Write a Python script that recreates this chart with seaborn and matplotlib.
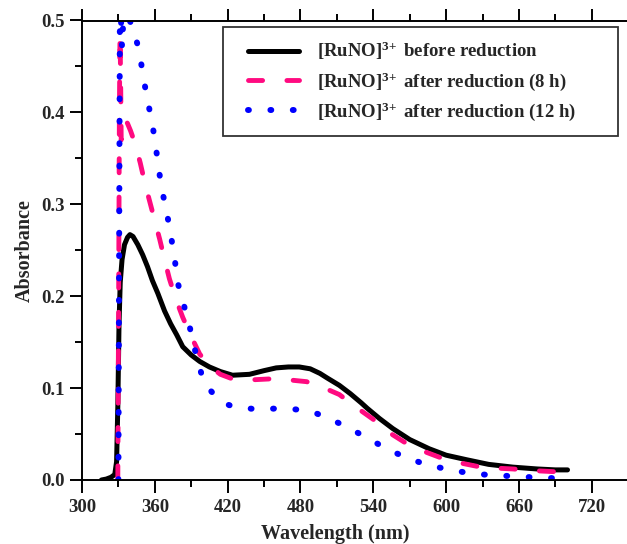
import matplotlib
matplotlib.use("Agg")
import matplotlib.pyplot as plt
from matplotlib.ticker import MultipleLocator, FormatStrFormatter
from matplotlib.legend_handler import HandlerLine2D
from matplotlib.lines import Line2D
import seaborn as sns
import pandas as pd

# UV-Vis spectra of [RuNO]3+ before and after reduction
wl_before = [316, 320, 324, 327, 328.5, 329.5, 330.5, 331.5, 333, 335, 337.5, 339.5, 342, 346,
             350, 354, 358, 362.5, 368, 373, 378, 383, 390, 397, 405, 414, 424, 438, 450, 460,
             470, 479, 488, 496, 502, 512, 521, 530, 535, 545, 556, 570, 586, 600, 617, 635,
             655, 675, 690, 700]
abs_before = [0.000, 0.001, 0.003, 0.006, 0.020, 0.080, 0.170, 0.215, 0.240, 0.256, 0.264, 0.267,
              0.265, 0.256, 0.245, 0.232, 0.217, 0.203, 0.184, 0.170, 0.158, 0.145, 0.136, 0.129,
              0.123, 0.118, 0.114, 0.115, 0.119, 0.122, 0.123, 0.123, 0.121, 0.116, 0.111, 0.103,
              0.094, 0.084, 0.078, 0.067, 0.056, 0.044, 0.034, 0.027, 0.022, 0.017, 0.014, 0.012,
              0.011, 0.011]

wl_8h = [329.5, 330.2, 330.8, 331.3, 331.8, 332.3, 333.5, 335.5, 337.5, 340, 344, 348, 352, 356,
         360, 364, 368, 372, 377, 383, 390, 397, 405, 414, 424, 440, 455, 470, 485, 498, 512,
         525, 541, 555, 567, 582, 596, 610, 625, 640, 655, 675, 690, 700]
abs_8h = [0.000, 0.200, 0.400, 0.485, 0.440, 0.370, 0.383, 0.392, 0.388, 0.380, 0.365, 0.345,
          0.322, 0.302, 0.282, 0.262, 0.240, 0.219, 0.198, 0.177, 0.156, 0.137, 0.124, 0.115,
          0.110, 0.109, 0.110, 0.109, 0.107, 0.101, 0.093, 0.080, 0.065, 0.050, 0.040, 0.031,
          0.024, 0.019, 0.015, 0.013, 0.012, 0.010, 0.009, 0.008]

wl_12h = [330, 330.6, 331.2, 332, 333, 334, 337, 340, 344, 347, 350, 353.5, 357.5, 360.5, 363,
          366, 370, 373.5, 376.5, 379, 384, 389, 393.5, 398.7, 404, 411, 418, 426.7, 445, 465,
          483.5, 492, 501.6, 518, 534.6, 551, 567.5, 585.6, 603.7, 621, 640, 658, 670, 688, 695]
abs_12h = [0.000, 0.250, 0.500, 0.505, 0.470, 0.500, 0.506, 0.498, 0.482, 0.468, 0.443, 0.416,
           0.391, 0.366, 0.340, 0.315, 0.290, 0.264, 0.239, 0.214, 0.190, 0.165, 0.139, 0.114,
           0.100, 0.090, 0.083, 0.079, 0.077, 0.078, 0.076, 0.073, 0.068, 0.058, 0.046, 0.034,
           0.024, 0.016, 0.011, 0.007, 0.005, 0.004, 0.003, 0.002, 0.001]

labels = [r"[RuNO]$^{\mathbf{3\!+}}$ before reduction",
          r"[RuNO]$^{\mathbf{3\!+}}$ after reduction (8 h)",
          r"[RuNO]$^{\mathbf{3\!+}}$ after reduction (12 h)"]
colors = ["#000000", "#FF0A80", "#0000FF"]

sns.set_style("ticks")
plt.rcParams["font.family"] = ["Liberation Serif", "DejaVu Serif"]
plt.rcParams["font.weight"] = "bold"
plt.rcParams["mathtext.fontset"] = "custom"
plt.rcParams["mathtext.rm"] = "Liberation Serif:bold"
plt.rcParams["mathtext.bf"] = "Liberation Serif:bold"
plt.rcParams["mathtext.it"] = "Liberation Serif:bold"

fig = plt.figure(figsize=(6.27, 5.44), dpi=100)
ax = fig.add_axes([82 / 627, 64 / 544, 545 / 627, 459.5 / 544])

series = [
    (wl_before, abs_before, dict(linestyle="-", linewidth=3.6, solid_capstyle="round")),
    (wl_8h, abs_8h, dict(linestyle=(0, (2.9, 5.0)), linewidth=3.5, dash_capstyle="round")),
    (wl_12h, abs_12h, dict(linestyle=(0, (0.15, 3.6)), linewidth=4.3, dash_capstyle="round")),
]
for (wl, ab, style), lab, col in zip(series, labels, colors):
    df = pd.DataFrame({"Wavelength": wl, "Absorbance": ab})
    sns.lineplot(data=df, x="Wavelength", y="Absorbance", ax=ax, color=col, label=lab,
                 estimator=None, sort=False, **style)

ax.set_xlim(300, 749)
ax.set_ylim(0, 0.5)
ax.xaxis.set_major_locator(MultipleLocator(60))
ax.xaxis.set_minor_locator(MultipleLocator(30))
ax.yaxis.set_major_locator(MultipleLocator(0.1))
ax.yaxis.set_minor_locator(MultipleLocator(0.05))
ax.yaxis.set_major_formatter(FormatStrFormatter("%.1f"))

for side in ["left", "bottom", "top"]:
    ax.spines[side].set_linewidth(1.4)
    ax.spines[side].set_color("black")
ax.spines["right"].set_visible(False)

ax.tick_params(which="both", direction="out", top=True, right=False, labeltop=False,
               width=1.4, color="black")
ax.tick_params(which="major", length=9, labelsize=13.5)
ax.tick_params(which="minor", length=5)
ax.tick_params(axis="x", which="major", pad=5)
ax.tick_params(axis="y", which="major", pad=3.5)
for t in ax.get_xticklabels() + ax.get_yticklabels():
    t.set_fontweight("bold")

ax.set_xlabel("Wavelength (nm)", fontsize=14.5, fontweight="bold")
ax.set_ylabel("Absorbance", fontsize=14.5, fontweight="bold")
ax.xaxis.set_label_coords((335 - 82) / 545, -0.095)
ax.yaxis.set_label_coords(-0.086, 0.5)

leg = ax.legend(loc="upper right", bbox_to_anchor=(0.258, 0.5, 0.7255, 0.4865),
                mode="expand", borderaxespad=0,
                prop={"size": 13.5, "weight": "bold"}, handlelength=3.4, handletextpad=0.95,
                labelspacing=0.42, borderpad=0.7, frameon=True, fancybox=False, shadow=False,
                handler_map={Line2D: HandlerLine2D(xpad=0.65)})
leg.get_frame().set_edgecolor("black")
leg.get_frame().set_linewidth(1.3)

fig.savefig("out.png", dpi=100)
